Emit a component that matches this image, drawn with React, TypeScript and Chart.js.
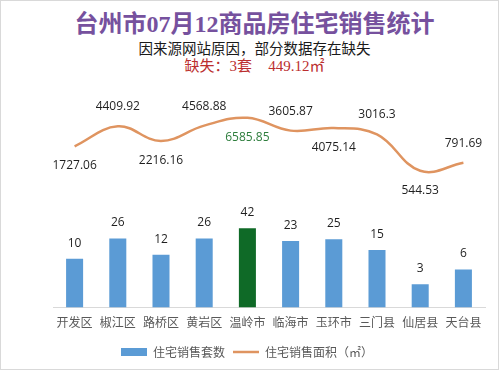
import React, { useEffect, useRef } from "react";
import { Chart, registerables } from "chart.js";

Chart.register(...registerables);

const categories = ["开发区", "椒江区", "路桥区", "黄岩区", "温岭市", "临海市", "玉环市", "三门县", "仙居县", "天台县"];
const salesCount = [10, 26, 12, 26, 42, 23, 25, 15, 3, 6];
const salesArea = [1727.06, 4409.92, 2216.16, 4568.88, 6585.85, 3605.87, 4075.14, 3016.3, 544.53, 791.69];
const countLabel = "住宅销售套数";
const areaLabel = "住宅销售面积（㎡）";
const highlightIndex = 4;

const BAR_BLUE = "#5b9bd5";
const BAR_GREEN = "#0f6a27";
const LINE_ORANGE = "#df9460";
const LABEL_GREEN = "#2d7d3c";

const labelPlugin = {
  id: "valueLabels",
  afterDatasetsDraw(chart: any) {
    const ctx = chart.ctx;
    ctx.save();
    ctx.textAlign = "center";
    ctx.textBaseline = "middle";
    ctx.font = "12px 'Open Sans', 'Noto Sans', sans-serif";
    const barMeta = chart.getDatasetMeta(0);
    barMeta.data.forEach((el: any, i: number) => {
      ctx.fillStyle = "#1f1f1f";
      ctx.fillText(String(salesCount[i]), el.x, el.y - 15.5);
    });
    const lineMeta = chart.getDatasetMeta(1);
    lineMeta.data.forEach((el: any, i: number) => {
      ctx.fillStyle = i === highlightIndex ? LABEL_GREEN : "#1f1f1f";
      const dy = i % 2 === 0 ? 19.5 : -19.5;
      ctx.fillText(String(salesArea[i]), el.x, el.y + dy);
    });
    ctx.restore();
  },
};

export default function App() {
  const ref = useRef<HTMLCanvasElement | null>(null);

  useEffect(() => {
    if (!ref.current) return;
    const chart = new Chart(ref.current, {
      type: "bar",
      data: {
        labels: categories,
        datasets: [
          {
            type: "bar",
            label: countLabel,
            data: salesCount,
            backgroundColor: salesCount.map((_, i) => (i === highlightIndex ? BAR_GREEN : BAR_BLUE)),
            categoryPercentage: 1,
            barPercentage: 0.394,
            yAxisID: "y",
            order: 2,
          } as any,
          {
            type: "line",
            label: areaLabel,
            data: salesArea,
            borderColor: LINE_ORANGE,
            backgroundColor: LINE_ORANGE,
            borderWidth: 2.5,
            pointRadius: 0,
            tension: 0.4,
            yAxisID: "y1",
            order: 1,
          } as any,
        ],
      },
      options: {
        animation: false,
        responsive: true,
        maintainAspectRatio: false,
        layout: { padding: { top: 111, left: 8, right: 15, bottom: 3 } },
        plugins: {
          legend: {
            position: "bottom",
            labels: {
              color: "#595959",
              font: { size: 12, family: "'Noto Sans CJK SC', sans-serif" },
              usePointStyle: true,
              boxHeight: 8,
              pointStyleWidth: 26,
              padding: 8,
              generateLabels: () => [
                {
                  text: countLabel,
                  fillStyle: BAR_BLUE,
                  strokeStyle: BAR_BLUE,
                  lineWidth: 0,
                  pointStyle: "rect",
                  fontColor: "#595959",
                  datasetIndex: 0,
                } as any,
                {
                  text: areaLabel,
                  fillStyle: LINE_ORANGE,
                  strokeStyle: LINE_ORANGE,
                  lineWidth: 2.5,
                  pointStyle: "line",
                  fontColor: "#595959",
                  datasetIndex: 1,
                } as any,
              ],
            },
          },
          tooltip: { enabled: false },
          title: { display: false },
        },
        scales: {
          x: {
            grid: { display: false, drawTicks: false },
            border: { display: true, color: "#d9d9d9", width: 1 },
            ticks: {
              color: "#595959",
              padding: 8,
              font: { size: 12, family: "'Noto Sans CJK SC', sans-serif" },
            },
          },
          y: {
            type: "logarithmic",
            min: 1,
            max: 10000,
            display: true,
            grid: { display: false, drawTicks: false },
            border: { display: false },
            ticks: { display: false },
            afterFit: (scale: any) => {
              scale.width = 44;
            },
          },
          y1: {
            type: "logarithmic",
            min: 0.867,
            max: 8670,
            display: false,
          },
        },
      },
      plugins: [labelPlugin],
    });
    return () => chart.destroy();
  }, []);

  return (
    <div
      style={{
        position: "fixed",
        left: 0,
        top: 0,
        width: 499,
        height: 370,
        background: "#ffffff",
        border: "1px solid #d9d9d9",
        boxSizing: "border-box",
        overflow: "hidden",
      }}
    >
      <div
        style={{
          position: "absolute",
          left: 4,
          width: 499,
          top: 9,
          textAlign: "center",
          fontFamily: "'Liberation Serif', 'Noto Sans CJK SC', serif",
          fontWeight: "bold",
          fontSize: 24,
          lineHeight: "28px",
          color: "#76519e",
          whiteSpace: "nowrap",
        }}
      >
        台州市07月12商品房住宅销售统计
      </div>
      <div
        style={{
          position: "absolute",
          left: 4,
          width: 499,
          top: 38,
          textAlign: "center",
          fontFamily: "'Noto Sans CJK SC', sans-serif",
          fontSize: 14.5,
          lineHeight: "18px",
          color: "#1a1a1a",
          whiteSpace: "nowrap",
        }}
      >
        因来源网站原因，部分数据存在缺失
      </div>
      <div
        style={{
          position: "absolute",
          left: 4,
          width: 499,
          top: 56,
          textAlign: "center",
          fontFamily: "'Liberation Serif', 'Noto Sans CJK SC', serif",
          fontSize: 15,
          lineHeight: "18px",
          color: "#bb2e2e",
          whiteSpace: "nowrap",
        }}
      >
        <span>缺失：3套</span>
        <span style={{ marginLeft: 16 }}>449.12㎡</span>
      </div>
      <div style={{ position: "absolute", left: 0, top: 0, width: 499, height: 370 }}>
        <canvas ref={ref} />
      </div>
    </div>
  );
}
